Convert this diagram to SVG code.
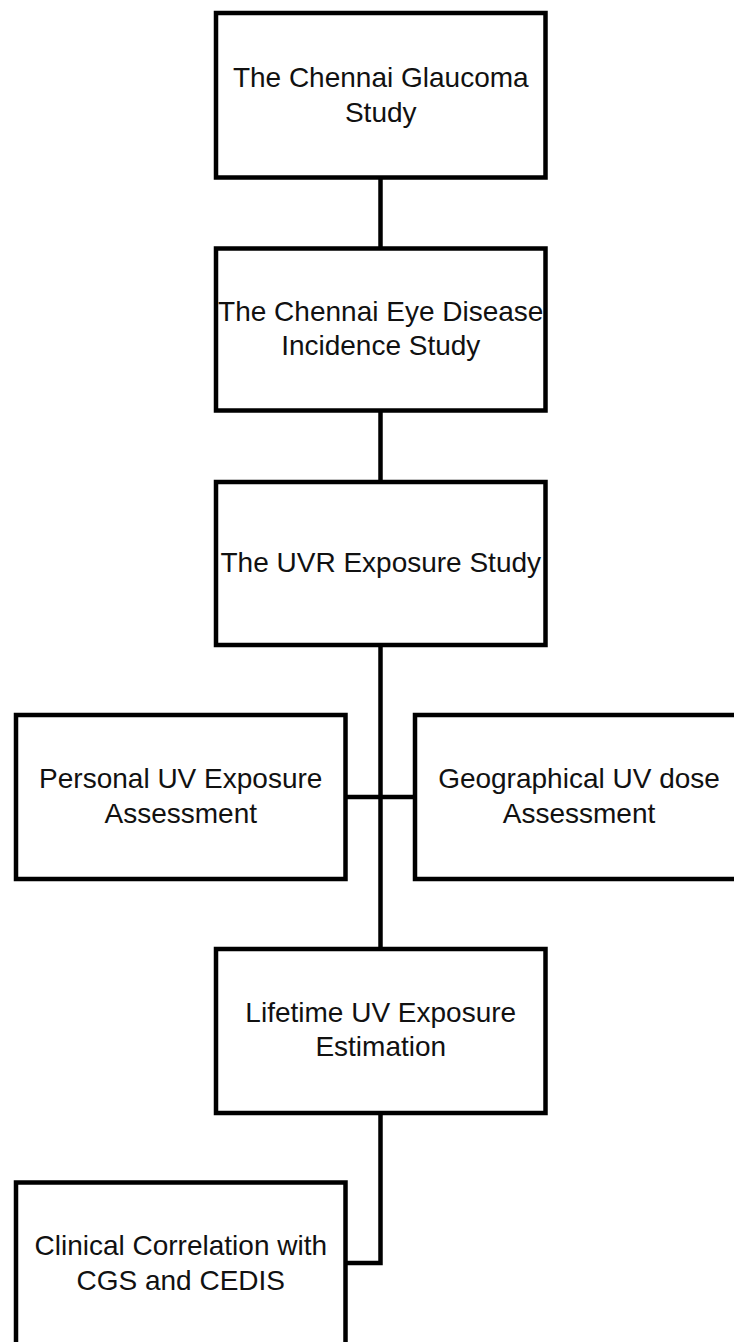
<svg xmlns="http://www.w3.org/2000/svg" width="734" height="1342" viewBox="0 0 734 1342">
<style>
.box{fill:#fff;stroke:#000;stroke-width:4.5}
.lbl{font-family:"Liberation Sans",Arial,sans-serif;font-size:28px;fill:#111;text-anchor:middle}
.conn{fill:none;stroke:#000;stroke-width:4.5}
</style>
<rect width="734" height="1342" fill="#fff"/>
<g id="connectors">
<line class="conn" x1="380.5" y1="177.5" x2="380.5" y2="248.5"/>
<line class="conn" x1="380.5" y1="410.5" x2="380.5" y2="482"/>
<line class="conn" x1="380.5" y1="645" x2="380.5" y2="949"/>
<line class="conn" x1="345.5" y1="797" x2="415" y2="797"/>
<path class="conn" d="M380.5 1113 V1263 H345.5"/>
</g>
<g id="n1"><rect class="box" x="216" y="13" width="329.5" height="164.5"/>
<text class="lbl" x="380.75" y="87">The Chennai Glaucoma</text><text class="lbl" x="380.75" y="122">Study</text></g>
<g id="n2"><rect class="box" x="216" y="248.5" width="329.5" height="162"/>
<text class="lbl" x="380.75" y="320.7">The Chennai Eye Disease</text><text class="lbl" x="380.75" y="355">Incidence Study</text></g>
<g id="n3"><rect class="box" x="216" y="482" width="329.5" height="163"/>
<text class="lbl" x="380.75" y="571.7">The UVR Exposure Study</text></g>
<g id="n4"><rect class="box" x="16" y="715" width="329.5" height="164"/>
<text class="lbl" x="180.75" y="788">Personal UV Exposure</text><text class="lbl" x="180.75" y="822.7">Assessment</text></g>
<g id="n5"><rect class="box" x="415" y="715" width="329.5" height="164"/>
<text class="lbl" x="579" y="788">Geographical UV dose</text><text class="lbl" x="579" y="822.7">Assessment</text></g>
<g id="n6"><rect class="box" x="216" y="949" width="329.5" height="164"/>
<text class="lbl" x="380.75" y="1021.7">Lifetime UV Exposure</text><text class="lbl" x="380.75" y="1056">Estimation</text></g>
<g id="n7"><rect class="box" x="16" y="1182.5" width="329.5" height="164"/>
<text class="lbl" x="180.75" y="1255">Clinical Correlation with</text><text class="lbl" x="180.75" y="1290">CGS and CEDIS</text></g>
</svg>
